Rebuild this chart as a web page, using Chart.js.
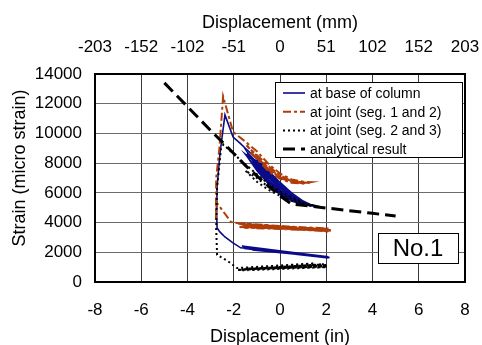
<!DOCTYPE html>
<html>
<head>
<meta charset="utf-8">
<script src="https://cdn.jsdelivr.net/npm/chart.js@4.4.0/dist/chart.umd.min.js"></script>
<style>
  body { margin: 0; background: #fff; }
  #wrap { position: relative; width: 482px; height: 345px; }
</style>
</head>
<body>
<div id="wrap"><canvas id="strainChart"></canvas></div>
<script>
// tick labels
const inTicks = [-8, -6, -4, -2, 0, 2, 4, 6, 8];
const mmTickLabels = ["-203", "-152", "-102", "-51", "0", "51", "102", "152", "203"];
const seriesNames = [
  "at base of column",
  "at joint (seg. 1 and 2)",
  "at joint (seg. 2 and 3)",
  "analytical result",
];

// at base of column (in, micro strain)
const baseX = [2.15, -1.2, 2.0, -1.45, 2.1, -1.55, 1.95, -1.65, 2.05, -1.1, 2.1, -1.4, 2.0, -1.6, 2.1, -1.7,
  -2.05, -2.38, -2.6, -2.72, -2.74, -2.72, -2.6, -2.38,
  -2.03, -1.73, -1.5,
  -1.0, -0.5, 0, 0.5, 1.0, 1.4,
  1.0, 0.5, 0, -0.5, -1.0, -1.45,
  -1.0, -0.5, 0, 0.5, 1.0, 1.4,
  1.0, 0.5, 0, -0.5, -1.0, -1.5,
  -1.0, -0.5, 0, 0.5, 1.0, 1.38,
  1.0, 0.5, 0, -0.5, -1.0, -1.42,
  -1.0, -0.5, 0, 0.5, 1.0, 1.35,
  0.5, 0, -0.5, -1.0, -1.4,
  -0.5, 0, 0.5, 1.0, 1.4];
const baseY = [1650, 2150, 1700, 2350, 1620, 2250, 1720, 2420, 1660, 2200, 1690, 2300, 1640, 2380, 1700, 2300,
  2650, 3030, 3370, 3640, 4600, 6400, 8600, 11250,
  9760, 9350, 9000,
  8300, 7500, 6700, 6000, 5450, 5150,
  5200, 5450, 5900, 6600, 7500, 8500,
  8150, 7350, 6550, 5900, 5400, 5130,
  5250, 5550, 6000, 6700, 7600, 8600,
  8000, 7150, 6400, 5800, 5350, 5110,
  5300, 5650, 6150, 6900, 7800, 8650,
  7900, 7050, 6300, 5700, 5300, 5100,
  5550, 6050, 6800, 7700, 8700,
  7250, 6500, 5850, 5380, 5120];

// at joint (seg. 1 and 2)
const joint12X = [2.2, -1.8, 2.1, -1.6, 2.15, -1.7, 2.0, -1.5, 2.2, -1.75, 1.9, -1.65, 2.1, -1.55, 2.0, -1.8,
  -2.12, -2.74, -2.77, -2.76, -2.62, -2.46,
  -2.03, -1.5,
  -1.0, -0.5, 0, 0.5, 1.0, 1.35,
  1.0, 0.5, 0, -0.5, -1.0, -1.3,
  -0.5, 0, 0.5, 1.0, 1.3,
  1.0, 0.5, 0, -0.5, -1.0, -1.45,
  -0.5, 0, 0.5, 1.0, 1.3,
  0.5, 0, -0.5, -1.0, -1.4];
const joint12Y = [3450, 3900, 3600, 3750, 3400, 3950, 3550, 3800, 3500, 3700, 3480, 3850, 3580, 3650, 3450, 3950,
  4040, 5350, 4200, 7000, 9000, 12500,
  10100, 9450,
  8800, 7950, 7300, 6900, 6750, 6720,
  6620, 6680, 6950, 7450, 8300, 8750,
  7700, 7100, 6800, 6680, 6700,
  6660, 6750, 7050, 7600, 8500, 9200,
  7550, 7000, 6750, 6650, 6680,
  6780, 7200, 7800, 8550, 9100];

// at joint (seg. 2 and 3)
const joint23X = [2.0, -1.85, 2.05, -1.6, 1.9, -1.7, 2.0, -1.5, 1.95, -1.8, 1.5, -1.86,
  -2.25, -2.72, -2.76, -2.72, -2.55, -2.45,
  -2.2, -1.95, -1.6,
  -1.0, -0.5, 0, 0.5, 1.0, 1.4,
  1.0, 0.5, 0, -0.5, -1.0, -1.5,
  -1.0, -0.5, 0, 0.5, 1.0, 1.4];
const joint23Y = [1150, 800, 1050, 850, 1200, 780, 1000, 900, 1120, 820, 1250, 940,
  1400, 1820, 3600, 6400, 9000, 9250,
  8900, 8550, 8050,
  7250, 6600, 6100, 5700, 5350, 5180,
  5200, 5480, 5800, 6200, 6750, 7500,
  7000, 6400, 5950, 5600, 5280, 5100];

// analytical result
const anaX = [-5, -4, -3, -2, -1.5, -1, -0.5, 0, 0.5, 1, 2, 3, 4, 5];
const anaY = [13400, 11800, 10200, 8650, 7850, 7150, 6450, 5800, 5250, 5160, 4980, 4800, 4620, 4440];

const FONT = "'Liberation Sans', Arial, sans-serif";

function toPoints(xs, ys) {
  return xs.map((x, i) => ({ x: x, y: ys[i] }));
}

const styles = [
  { color: "#0a0a8a", width: 1.6, dash: [] },
  { color: "#b03c08", width: 2, dash: [8, 3, 3, 3] },
  { color: "#000000", width: 2, dash: [2, 3] },
  { color: "#000000", width: 3, dash: [12, 6] },
];

const framePlugin = {
  id: "frame",
  beforeDatasetsDraw(chart) {
    const a = chart.chartArea;
    const ctx = chart.ctx;
    ctx.save();
    ctx.strokeStyle = "#000";
    ctx.lineWidth = 2;
    ctx.strokeRect(a.left, a.top, a.right - a.left, a.bottom - a.top);
    ctx.restore();
  },
  afterDatasetsDraw(chart) {
    const a = chart.chartArea;
    const ctx = chart.ctx;
    ctx.save();

    // legend box
    const lx = a.right - 190, ly = a.top + 8, lw = 187, lh = 75;
    ctx.fillStyle = "#fff";
    ctx.fillRect(lx, ly, lw, lh);
    ctx.strokeStyle = "#000";
    ctx.lineWidth = 1;
    ctx.strokeRect(lx + 0.5, ly + 0.5, lw, lh);
    ctx.font = "14px " + FONT;
    ctx.textBaseline = "middle";
    ctx.textAlign = "left";
    seriesNames.forEach((name, i) => {
      const y = ly + 11 + i * 18.7;
      const s = styles[i];
      ctx.strokeStyle = s.color;
      ctx.lineWidth = s.width;
      ctx.setLineDash(s.dash);
      ctx.beginPath();
      ctx.moveTo(lx + 8, y);
      ctx.lineTo(lx + 30, y);
      ctx.stroke();
      ctx.setLineDash([]);
      ctx.fillStyle = "#000";
      ctx.fillText(name, lx + 35, y + 1);
    });

    // specimen label
    const bx = a.right - 87, by = a.bottom - 49, bw = 80, bh = 30;
    ctx.fillStyle = "#fff";
    ctx.fillRect(bx, by, bw, bh);
    ctx.strokeStyle = "#000";
    ctx.lineWidth = 1;
    ctx.strokeRect(bx + 0.5, by + 0.5, bw, bh);
    ctx.font = "24px " + FONT;
    ctx.fillStyle = "#000";
    ctx.textAlign = "center";
    ctx.fillText("No.1", bx + bw / 2, by + bh / 2 + 1);
    ctx.restore();
  },
};

const allX = [baseX, joint12X, joint23X, anaX];
const allY = [baseY, joint12Y, joint23Y, anaY];

const noSidePad = (scale, h) => {
  scale.height = h;
  scale.paddingLeft = 0;
  scale.paddingRight = 0;
};

const config = {
  type: "scatter",
  data: {
    datasets: seriesNames.map((name, i) => ({
      label: name,
      data: toPoints(allX[i], allY[i]),
      showLine: true,
      borderColor: styles[i].color,
      backgroundColor: styles[i].color,
      borderWidth: styles[i].width,
      borderDash: styles[i].dash,
      pointRadius: 0,
      tension: 0,
      order: 4 - i,
    })),
  },
  options: {
    responsive: true,
    maintainAspectRatio: false,
    animation: false,
    layout: { padding: { left: 0, right: 17, top: 0, bottom: 0 } },
    plugins: {
      legend: { display: false },
      tooltip: { enabled: false },
    },
    scales: {
      x: {
        type: "linear",
        position: "bottom",
        min: -8,
        max: 8,
        afterBuildTicks: (scale) => {
          scale.ticks = inTicks.map((v) => ({ value: v }));
        },
        afterFit: (scale) => noSidePad(scale, 63),
        ticks: {
          color: "#000",
          padding: 18,
          maxRotation: 0,
          font: { family: FONT, size: 17 },
          callback: (value) => String(value),
        },
        grid: { color: "#3a3a3a", drawTicks: false },
        border: { color: "#000", width: 2 },
        title: {
          display: true,
          text: "Displacement (in)",
          color: "#000",
          padding: { top: 0, bottom: -3 },
          font: { family: FONT, size: 18 },
        },
      },
      xTop: {
        type: "linear",
        position: "top",
        min: -8,
        max: 8,
        afterBuildTicks: (scale) => {
          scale.ticks = inTicks.map((v) => ({ value: v }));
        },
        afterFit: (scale) => noSidePad(scale, 74),
        ticks: {
          color: "#000",
          padding: 16,
          maxRotation: 0,
          font: { family: FONT, size: 17 },
          callback: (value, index) => mmTickLabels[index],
        },
        grid: { display: false, drawTicks: false },
        border: { color: "#000", width: 2 },
        title: {
          display: true,
          text: "Displacement (mm)",
          color: "#000",
          padding: { top: 12, bottom: 0 },
          font: { family: FONT, size: 18 },
        },
      },
      y: {
        type: "linear",
        position: "left",
        min: 0,
        max: 14000,
        afterFit: (scale) => { scale.width = 95; },
        ticks: {
          stepSize: 2000,
          color: "#000",
          padding: 13,
          font: { family: FONT, size: 17 },
          callback: (value) => String(value),
        },
        grid: { color: "#6a6a6a", drawTicks: false },
        border: { color: "#000", width: 2 },
        title: {
          display: true,
          // leading spaces nudge the rotated title up a little, like the original
          text: "    Strain (micro strain)",
          color: "#000",
          padding: { top: 9, bottom: 0 },
          font: { family: FONT, size: 18 },
        },
      },
    },
  },
  plugins: [framePlugin],
};

new Chart(document.getElementById("strainChart").getContext("2d"), config);
</script>
</body>
</html>
